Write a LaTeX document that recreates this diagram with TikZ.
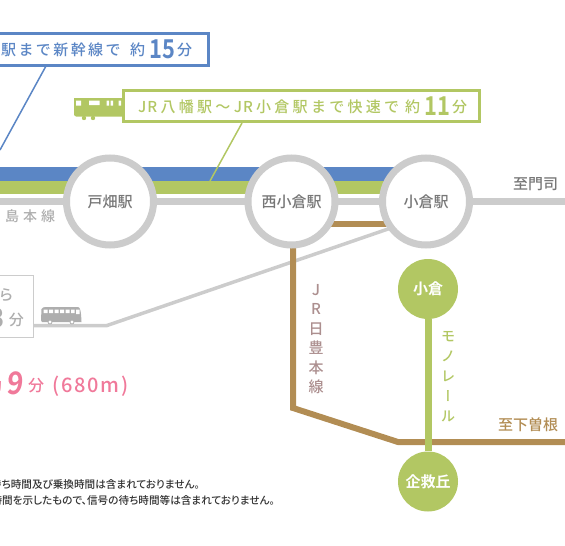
\documentclass[tikz,border=0pt]{standalone}
\usepackage{fontspec}
\setmainfont{Noto Sans CJK JP Medium}
\newfontfamily\spc[LetterSpace=16]{Noto Sans CJK JP Medium}
\newfontfamily\spcg[LetterSpace=22]{Noto Sans CJK JP Medium}
\newfontfamily\spcb[LetterSpace=9]{Noto Sans CJK JP Medium}
\newfontfamily\numf{Noto Sans CJK JP Bold}
\newfontfamily\slf[FakeSlant=0.1]{Noto Sans CJK JP Bold}
\newfontfamily\vrt[RawFeature=+vert]{Noto Sans CJK JP Medium}
\newfontfamily\ntf[RawFeature=+palt]{Noto Sans CJK JP Medium}
\definecolor{blu}{HTML}{5B86C5}
\definecolor{grn}{HTML}{B2C763}
\definecolor{gry}{HTML}{CCCCCC}
\definecolor{lgt}{HTML}{AEAEAE}
\definecolor{brn}{HTML}{B28D54}
\definecolor{pnk}{HTML}{F0799A}
\definecolor{txg}{HTML}{777777}
\definecolor{mau}{HTML}{AC8F8F}
\tikzset{
 x=1pt,y=-1pt,
 stn/.style={circle,draw=gry,line width=7pt,fill=white,minimum size=87pt,inner sep=0pt,text=txg,font=\fontsize{15}{16}\selectfont},
 mono/.style={circle,fill=grn,minimum size=60pt,inner sep=0pt,text=white,font=\fontsize{15}{16}\selectfont\numf},
 lbl/.style={inner sep=0pt,font=\fontsize{15}{16}\selectfont},
 callout/.style={draw,fill=white,line width=3pt,inner sep=0pt,outer sep=0pt},
 captxt/.style={inner sep=0pt,anchor=base west,font=\fontsize{15}{16}\selectfont\spc},
 bignum/.style={inner sep=0pt,anchor=base west,xscale=.84,font=\fontsize{26}{26}\selectfont\numf},
 vlabel/.style={inner sep=0pt,align=center},
 note/.style={inner sep=0pt,anchor=base east,text=black!80,font=\fontsize{10.6}{11}\selectfont\ntf},
}
\begin{document}
\begin{tikzpicture}
\useasboundingbox (0,0) rectangle (565,546);
\clip (0,0) rectangle (565,546);
% bands
\fill[blu] (0,167) rectangle (400,181);
\fill[grn] (0,181) rectangle (400,194);
\coordinate (wL) at (0,201);
\coordinate (eR) at (565,201);
\coordinate (bendB) at (107,325.5);
\coordinate (boxE) at (34,325.5);
\coordinate (busEnd) at (395,226.6);
\coordinate (j1) at (293,408);
\coordinate (j2) at (398,442);
\coordinate (eS) at (565,442);
\path (110,201.5) coordinate (cT) (291.5,201.5) coordinate (cN) (426,201.5) coordinate (cK);
% lines
\draw[gry,line width=7pt] (wL) -- (eR);
\draw[gry,line width=3.5pt] (boxE) -- (bendB) -- (busEnd);
\draw[brn,line width=6pt] (cN |- 0,224) -- (cK |- 0,224);
\draw[brn,line width=6pt,miter limit=10] (293,240) -- (j1) -- (j2) -- (eS);
% callout connectors
\coordinate (bc1) at (46,66);
\coordinate (bc2) at (0,150);
\draw[blu,line width=1.5pt] (bc1) -- (bc2);
\coordinate (gc1) at (242,123);
\coordinate (gc2) at (210,181);
\draw[grn,line width=1.5pt] (gc1) -- (gc2);
% stations
\node[stn] (tobata) at (cT) {戸畑駅};
\node[stn] (nishi) at (cN) {西小倉駅};
\node[stn] (kokura) at (cK) {小倉駅};
% monorail
\node[mono] (mk) at (428,289) {小倉};
\node[mono] (mt) at (428,481.5) {企救丘};
\draw[grn,line width=7pt] (mk) -- (mt);
% blue callout
\node[callout,draw=blu,anchor=north west,minimum width=228.3pt,minimum height=32pt] (bb) at (-20,33.2) {};
\node[captxt,text=blu] (bt) at (1,55.5) {駅まで新幹線で};
\node[captxt,text=blu] (bt2) at (130,55.5) {約};
\node[bignum,text=blu] (bn) at (149.5,58) {15};
\node[captxt,text=blu] (bf) at (177,55.5) {分};
% green callout
\node[callout,draw=grn,anchor=north west,minimum width=356pt,minimum height=31pt] (gb) at (123.5,90.5) {};
\node[captxt,text=grn,font=\fontsize{15}{16}\selectfont\spcg] (gt) at (138,112) {J\hspace{1pt}R八幡駅～J\hspace{1pt}R小倉駅まで快速で};
\node[captxt,text=grn] (gt2) at (405,112) {約};
\node[bignum,text=grn] (gn) at (424,115) {11};
\node[captxt,text=grn] (gf) at (452,112) {分};
% train
\fill[grn] (74,98) -- (122,98) -- (122,116.5) -- (76,116.5) -- (74,115) -- cycle;
\fill[grn] (84,118) circle (2.2) (93,118) circle (2.2);
\fill[white] (76,100.5) rectangle (81,105.5) (89,100.5) rectangle (99.5,105) (106.5,100.5) rectangle (109,105.5) (110.5,100.5) rectangle (113,105.5) (118.5,100.5) rectangle (121,105.5);
% labels
\node[lbl,text=txg] (mon) at (535.5,184.5) {至門司};
\node[lbl,text=brn] (sim) at (528,425) {至下曽根};
\node[lbl,text=lgt,anchor=west,font=\fontsize{14}{15}\selectfont] (kago) at (5,216.5) {島\hspace{4pt}本\hspace{4pt}線};
\node[vlabel,text=mau,font=\fontsize{15}{19.4}\selectfont] (nip) at (316,339) {J\\R\\日\\豊\\本\\線};
\node[vlabel,text=grn,font=\fontsize{14}{20}\selectfont] (mono) at (448,376.5) {モ\\ノ\\レ\\{\vrt ー}\\ル};
% grey box
\node[draw=gry,fill=white,line width=1.5pt,outer sep=0pt,anchor=north west,minimum width=53.3pt,minimum height=62pt,inner sep=0pt] (gbox) at (-20,275.7) {};
\node[lbl,text=lgt] (ra) at (6,295.5) {ら};
\node[bignum,text=lgt,anchor=base east,xscale=1] (three) at (5,327) {3};
\node[lbl,text=lgt] (fun) at (16.5,319.5) {分};
% bus
\fill[lgt] (41.5,309) .. controls (42,307.5) and (44,307) .. (46,307) -- (78,307) .. controls (80,307) and (81,310) .. (81.5,322) -- (42,322) -- (41,320) -- cycle;
\fill[white] (43.5,309.5) rectangle (47.5,313) (49,309.5) rectangle (53,313) (54.5,309.5) rectangle (58.5,313) (60,309.5) rectangle (64,313) (65.5,309.5) rectangle (69.5,313) (71,309.5) rectangle (74.5,313) (76,309.5) rectangle (79.5,314);
\filldraw[fill=white,draw=lgt,line width=.8pt] (50,322) circle (2) (72,322) circle (2);
% pink
\node[inner sep=0pt,anchor=base east,text=pnk,font=\fontsize{15}{16}\selectfont] (pv) at (2,391) {約};
\node[inner sep=0pt,anchor=base west,text=pnk,xscale=.9,font=\fontsize{31}{31}\selectfont\slf] (p9) at (6,394.5) {9};
\node[inner sep=0pt,anchor=base west,text=pnk,font=\fontsize{16}{16}\selectfont] (pf) at (28,391) {分};
\node[inner sep=0pt,anchor=base west,text=pnk,font=\fontsize{20}{20}\selectfont\spcb] (pm) at (52,392) {(680m)};
% notes
\node[note] (n1) at (200,488) {待ち時間及び乗換時間は含まれておりません。};
\node[note] (n2) at (275,504) {時間を示したもので、信号の待ち時間等は含まれておりません。};
\end{tikzpicture}
\end{document}
